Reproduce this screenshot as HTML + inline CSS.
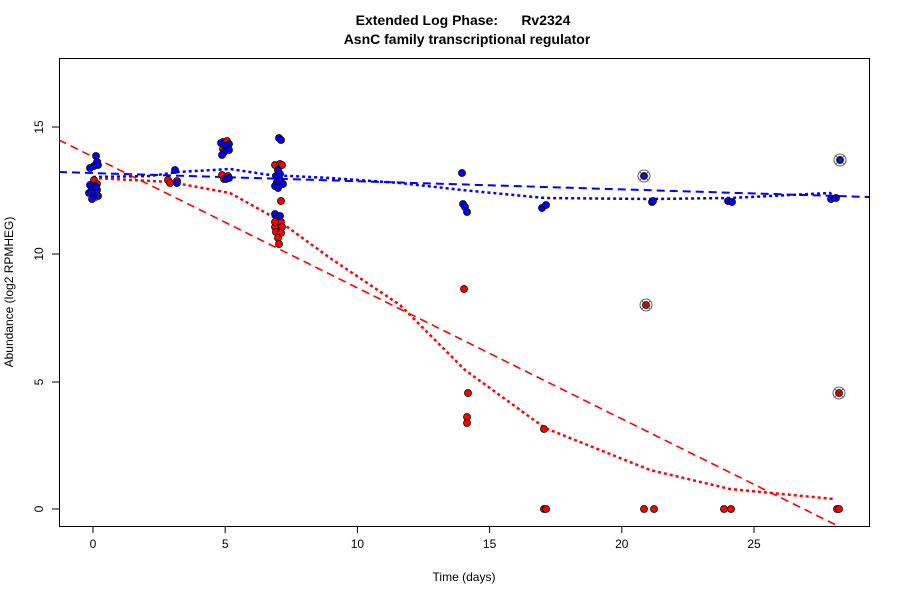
<!DOCTYPE html>
<html><head><meta charset="utf-8"><style>body{margin:0;background:#fff}</style></head><body>
<svg width="900" height="600" xmlns="http://www.w3.org/2000/svg" font-family="Liberation Sans, sans-serif">
<rect width="900" height="600" fill="#fff"/>
<text x="463" y="25" text-anchor="middle" font-size="14" font-weight="bold" xml:space="preserve">Extended Log Phase:      Rv2324</text>
<text x="467" y="44" text-anchor="middle" font-size="14" font-weight="bold">AsnC family transcriptional regulator</text>
<rect x="59.5" y="58.5" width="810" height="468" fill="none" stroke="#000"/>
<g stroke="#000">
<line x1="93" y1="526" x2="93" y2="533"/><line x1="225.2" y1="526" x2="225.2" y2="533"/><line x1="357.4" y1="526" x2="357.4" y2="533"/><line x1="489.6" y1="526" x2="489.6" y2="533"/><line x1="621.8" y1="526" x2="621.8" y2="533"/><line x1="754" y1="526" x2="754" y2="533"/>
<line x1="52" y1="509" x2="59" y2="509"/><line x1="52" y1="382" x2="59" y2="382"/><line x1="52" y1="254" x2="59" y2="254"/><line x1="52" y1="127" x2="59" y2="127"/>
</g>
<g font-size="12" text-anchor="middle">
<text x="93" y="548">0</text><text x="225.2" y="548">5</text><text x="357.4" y="548">10</text><text x="489.6" y="548">15</text><text x="621.8" y="548">20</text><text x="754" y="548">25</text>
<text transform="translate(43,509) rotate(-90)">0</text><text transform="translate(43,382) rotate(-90)">5</text><text transform="translate(43,254) rotate(-90)">10</text><text transform="translate(43,127) rotate(-90)">15</text>
<text x="464" y="581">Time  (days)</text>
<text transform="translate(13,292) rotate(-90)">Abundance  (log2 RPMHEG)</text>
</g>
<g fill="none" stroke-width="2">
<line x1="59" y1="172" x2="869" y2="197" stroke="#00f" stroke-dasharray="8,5"/>
<polyline stroke="#00f" stroke-dasharray="3,3" stroke-width="2.5" points="93,177 150,176 178,172 230,169 270,175 330,178 400,183 462,190 545,198 650,199 730,198 790,195 830,193 834,197"/>
<line x1="59" y1="140" x2="838" y2="526" stroke="#f00" stroke-dasharray="8,5" stroke-width="1.6"/>
<polyline stroke="#f00" stroke-dasharray="3,3" stroke-width="2.5" points="93,178 170,182 230,193 275,218 330,258 400,305 465,370 545,428 650,470 730,489 834,499"/>
</g>
<g stroke="#000" stroke-width="0.8">
<g fill="#f00">
<circle cx="94" cy="180" r="3.5"/><circle cx="97" cy="184" r="3.5"/>
<circle cx="168" cy="180" r="3.5"/><circle cx="170" cy="183" r="3.5"/><circle cx="177" cy="181" r="3.5"/>
<circle cx="223" cy="142" r="3.5"/><circle cx="227" cy="141" r="3.5"/><circle cx="223" cy="149" r="3.5"/>
<circle cx="222" cy="175" r="3.5"/><circle cx="228" cy="176" r="3.5"/><circle cx="224" cy="179" r="3.5"/>
<circle cx="275" cy="165" r="3.5"/><circle cx="280" cy="164" r="3.5"/><circle cx="282" cy="165" r="3.5"/><circle cx="281" cy="201" r="3.5"/>
<circle cx="277" cy="220" r="3.5"/><circle cx="281" cy="222" r="3.5"/><circle cx="275" cy="227" r="3.5"/><circle cx="282" cy="227" r="3.5"/><circle cx="276" cy="232" r="3.5"/><circle cx="281" cy="233" r="3.5"/><circle cx="278" cy="238" r="3.5"/><circle cx="279" cy="244" r="3.5"/><circle cx="275" cy="222" r="3.5"/>
<circle cx="464" cy="289" r="3.5"/><circle cx="468" cy="393" r="3.5"/><circle cx="467" cy="417" r="3.5"/><circle cx="467" cy="423" r="3.5"/>
<circle cx="544" cy="429" r="3.5"/><circle cx="544" cy="509" r="3.5"/><circle cx="546" cy="509" r="3.5"/>
<circle cx="644" cy="509" r="3.5"/><circle cx="654" cy="509" r="3.5"/><circle cx="724" cy="509" r="3.5"/><circle cx="731" cy="509" r="3.5"/><circle cx="837" cy="509" r="3.5"/><circle cx="839" cy="509" r="3.5"/>
<circle cx="646" cy="305" r="3.5"/><circle cx="839" cy="393" r="3.5"/>
</g>
<g fill="#00f">
<circle cx="96" cy="156" r="3.5"/><circle cx="97" cy="162" r="3.5"/><circle cx="94" cy="166" r="3.5"/><circle cx="90" cy="168" r="3.5"/><circle cx="98" cy="165" r="3.5"/>
<circle cx="90" cy="185" r="3.5"/><circle cx="95" cy="186" r="3.5"/><circle cx="92" cy="190" r="3.5"/><circle cx="97" cy="190" r="3.5"/><circle cx="89" cy="193" r="3.5"/><circle cx="94" cy="195" r="3.5"/><circle cx="98" cy="196" r="3.5"/><circle cx="92" cy="199" r="3.5"/><circle cx="96" cy="187" r="3.5"/>
<circle cx="177" cy="183" r="3.5"/><circle cx="175" cy="170" r="3.5"/>
<circle cx="221" cy="143" r="3.5"/><circle cx="229" cy="144" r="3.5"/><circle cx="226" cy="146" r="3.5"/><circle cx="229" cy="150" r="3.5"/><circle cx="224" cy="152" r="3.5"/><circle cx="222" cy="155" r="3.5"/><circle cx="226" cy="179" r="3.5"/><circle cx="229" cy="178" r="3.5"/>
<circle cx="279" cy="138" r="3.5"/><circle cx="281" cy="140" r="3.5"/>
<circle cx="278" cy="170" r="3.5"/><circle cx="276" cy="176" r="3.5"/><circle cx="277" cy="182" r="3.5"/><circle cx="280" cy="180" r="3.5"/><circle cx="275" cy="186" r="3.5"/><circle cx="278" cy="188" r="3.5"/><circle cx="283" cy="184" r="3.5"/><circle cx="280" cy="174" r="3.5"/>
<circle cx="275" cy="214" r="3.5"/><circle cx="280" cy="216" r="3.5"/>
<circle cx="462" cy="173" r="3.5"/><circle cx="463" cy="204" r="3.5"/><circle cx="465" cy="207" r="3.5"/><circle cx="467" cy="212" r="3.5"/>
<circle cx="542" cy="208" r="3.5"/><circle cx="546" cy="205" r="3.5"/>
<circle cx="652" cy="202" r="3.5"/><circle cx="653" cy="201" r="3.5"/><circle cx="728" cy="201" r="3.5"/><circle cx="732" cy="202" r="3.5"/><circle cx="831" cy="199" r="3.5"/><circle cx="836" cy="198" r="3.5"/>
<circle cx="644" cy="176" r="3.5"/><circle cx="840" cy="160" r="3.5"/>
</g>
<g fill="none" stroke="#333">
<circle cx="644" cy="176" r="6"/><circle cx="840" cy="160" r="6"/><circle cx="646" cy="305" r="6"/><circle cx="839" cy="393" r="6"/><circle cx="94" cy="196" r="5"/>
<path d="M640,172l8,8M648,172l-8,8M836,156l8,8M844,156l-8,8M642,301l8,8M650,301l-8,8M835,389l8,8M843,389l-8,8"/>
</g>
</g>
</svg>
</body></html>
